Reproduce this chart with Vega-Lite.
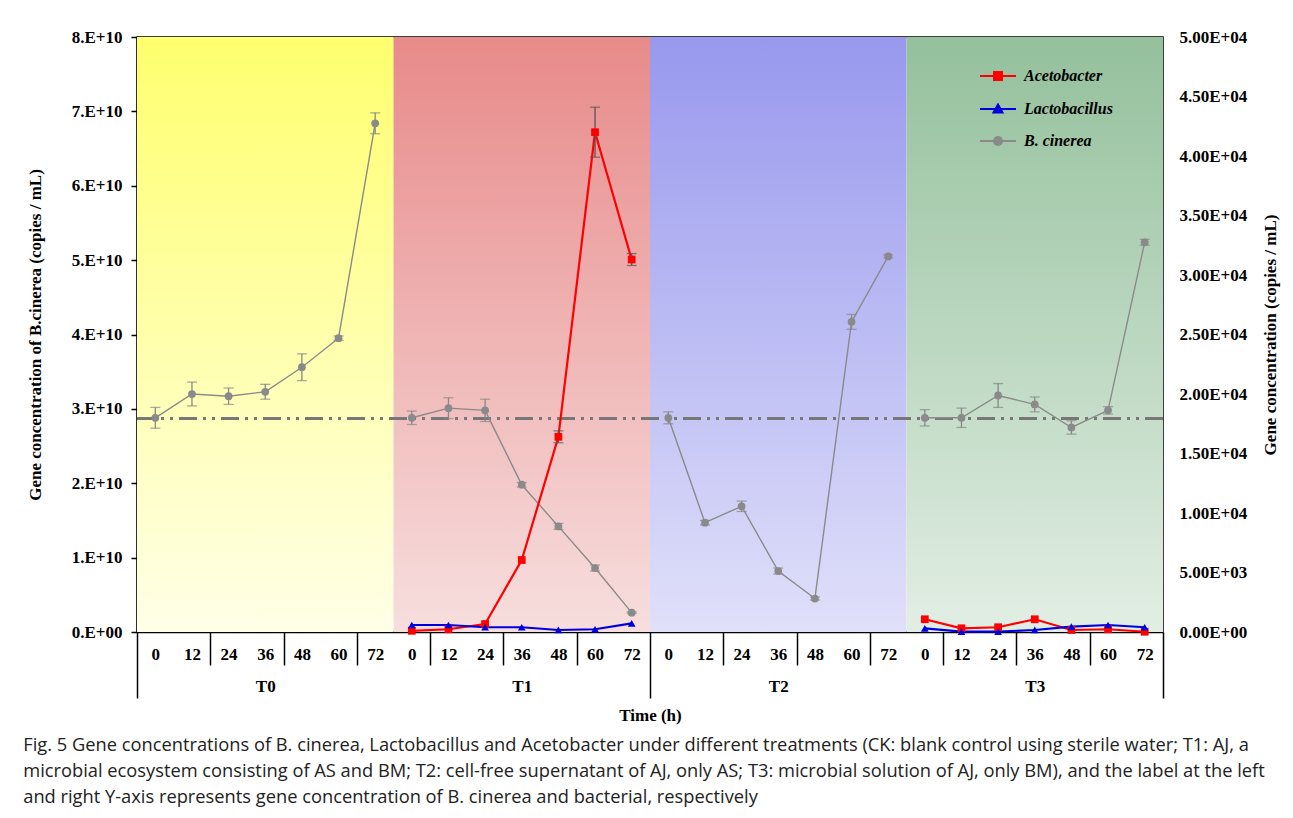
{
  "$schema": "https://vega.github.io/schema/vega-lite/v6.json",
  "width": 1026,
  "height": 595,
  "autosize": {"type": "none"},
  "padding": {"left": 137, "top": 37, "right": 130, "bottom": 186},
  "background": "white",
  "config": {
    "view": {"stroke": "black", "strokeWidth": 1.5},
    "axis": {"labelFont": "Liberation Serif", "titleFont": "Liberation Serif", "labelFontWeight": "bold", "titleFontWeight": "bold", "labelColor": "black", "titleColor": "black", "labelFontSize": 17, "titleFontSize": 17, "grid": false}
  },
  "title": {
    "text": [
      "Fig. 5  Gene concentrations of B. cinerea, Lactobacillus and Acetobacter under different treatments (CK: blank control using sterile water; T1: AJ, a",
      "microbial ecosystem consisting of AS and BM; T2: cell-free supernatant of AJ, only AS; T3: microbial solution of AJ, only BM), and the label at the left",
      "and right Y-axis represents gene concentration of B. cinerea and bacterial, respectively"
    ],
    "orient": "bottom", "anchor": "start", "frame": "bounds", "font": "Open Sans", "fontSize": 18.3, "fontWeight": "normal", "color": "#222222", "lineHeight": 26, "offset": 14, "dx": -3
  },
  "datasets": {
    "main": [
      {"s": "B. cinerea", "t": "T0", "h": 0, "i": 0, "v": 2.88e10, "e": 1.4e9},
      {"s": "B. cinerea", "t": "T0", "h": 12, "i": 1, "v": 3.20e10, "e": 1.6e9},
      {"s": "B. cinerea", "t": "T0", "h": 24, "i": 2, "v": 3.17e10, "e": 1.1e9},
      {"s": "B. cinerea", "t": "T0", "h": 36, "i": 3, "v": 3.23e10, "e": 1.0e9},
      {"s": "B. cinerea", "t": "T0", "h": 48, "i": 4, "v": 3.56e10, "e": 1.8e9},
      {"s": "B. cinerea", "t": "T0", "h": 60, "i": 5, "v": 3.95e10, "e": 0.3e9},
      {"s": "B. cinerea", "t": "T0", "h": 72, "i": 6, "v": 6.84e10, "e": 1.4e9},
      {"s": "B. cinerea", "t": "T1", "h": 0, "i": 7, "v": 2.88e10, "e": 0.9e9},
      {"s": "B. cinerea", "t": "T1", "h": 12, "i": 8, "v": 3.01e10, "e": 1.4e9},
      {"s": "B. cinerea", "t": "T1", "h": 24, "i": 9, "v": 2.98e10, "e": 1.5e9},
      {"s": "B. cinerea", "t": "T1", "h": 36, "i": 10, "v": 1.98e10, "e": 0.3e9},
      {"s": "B. cinerea", "t": "T1", "h": 48, "i": 11, "v": 1.42e10, "e": 0.4e9},
      {"s": "B. cinerea", "t": "T1", "h": 60, "i": 12, "v": 0.86e10, "e": 0.4e9},
      {"s": "B. cinerea", "t": "T1", "h": 72, "i": 13, "v": 0.26e10, "e": 0.1e9},
      {"s": "B. cinerea", "t": "T2", "h": 0, "i": 14, "v": 2.88e10, "e": 0.8e9},
      {"s": "B. cinerea", "t": "T2", "h": 12, "i": 15, "v": 1.47e10, "e": 0.3e9},
      {"s": "B. cinerea", "t": "T2", "h": 24, "i": 16, "v": 1.69e10, "e": 0.7e9},
      {"s": "B. cinerea", "t": "T2", "h": 36, "i": 17, "v": 0.82e10, "e": 0.4e9},
      {"s": "B. cinerea", "t": "T2", "h": 48, "i": 18, "v": 0.45e10, "e": 0.2e9},
      {"s": "B. cinerea", "t": "T2", "h": 60, "i": 19, "v": 4.17e10, "e": 1.0e9},
      {"s": "B. cinerea", "t": "T2", "h": 72, "i": 20, "v": 5.05e10, "e": 0.2e9},
      {"s": "B. cinerea", "t": "T3", "h": 0, "i": 21, "v": 2.88e10, "e": 1.1e9},
      {"s": "B. cinerea", "t": "T3", "h": 12, "i": 22, "v": 2.88e10, "e": 1.3e9},
      {"s": "B. cinerea", "t": "T3", "h": 24, "i": 23, "v": 3.18e10, "e": 1.6e9},
      {"s": "B. cinerea", "t": "T3", "h": 36, "i": 24, "v": 3.06e10, "e": 1.0e9},
      {"s": "B. cinerea", "t": "T3", "h": 48, "i": 25, "v": 2.75e10, "e": 0.9e9},
      {"s": "B. cinerea", "t": "T3", "h": 60, "i": 26, "v": 2.98e10, "e": 0.5e9},
      {"s": "B. cinerea", "t": "T3", "h": 72, "i": 27, "v": 5.24e10, "e": 0.4e9},
      {"s": "Acetobacter", "t": "T1", "h": 0, "i": 7, "v": 100, "e": 0},
      {"s": "Acetobacter", "t": "T1", "h": 12, "i": 8, "v": 230, "e": 0},
      {"s": "Acetobacter", "t": "T1", "h": 24, "i": 9, "v": 670, "e": 0},
      {"s": "Acetobacter", "t": "T1", "h": 36, "i": 10, "v": 6050, "e": 0},
      {"s": "Acetobacter", "t": "T1", "h": 48, "i": 11, "v": 16400, "e": 500},
      {"s": "Acetobacter", "t": "T1", "h": 60, "i": 12, "v": 42000, "e": 2100},
      {"s": "Acetobacter", "t": "T1", "h": 72, "i": 13, "v": 31300, "e": 500},
      {"s": "Acetobacter", "t": "T3", "h": 0, "i": 21, "v": 1070, "e": 0},
      {"s": "Acetobacter", "t": "T3", "h": 12, "i": 22, "v": 310, "e": 0},
      {"s": "Acetobacter", "t": "T3", "h": 24, "i": 23, "v": 400, "e": 0},
      {"s": "Acetobacter", "t": "T3", "h": 36, "i": 24, "v": 1070, "e": 0},
      {"s": "Acetobacter", "t": "T3", "h": 48, "i": 25, "v": 170, "e": 0},
      {"s": "Acetobacter", "t": "T3", "h": 60, "i": 26, "v": 230, "e": 0},
      {"s": "Acetobacter", "t": "T3", "h": 72, "i": 27, "v": 20, "e": 0},
      {"s": "Lactobacillus", "t": "T1", "h": 0, "i": 7, "v": 590, "e": 0},
      {"s": "Lactobacillus", "t": "T1", "h": 12, "i": 8, "v": 590, "e": 0},
      {"s": "Lactobacillus", "t": "T1", "h": 24, "i": 9, "v": 400, "e": 0},
      {"s": "Lactobacillus", "t": "T1", "h": 36, "i": 10, "v": 400, "e": 0},
      {"s": "Lactobacillus", "t": "T1", "h": 48, "i": 11, "v": 170, "e": 0},
      {"s": "Lactobacillus", "t": "T1", "h": 60, "i": 12, "v": 230, "e": 0},
      {"s": "Lactobacillus", "t": "T1", "h": 72, "i": 13, "v": 730, "e": 0},
      {"s": "Lactobacillus", "t": "T3", "h": 0, "i": 21, "v": 310, "e": 0},
      {"s": "Lactobacillus", "t": "T3", "h": 12, "i": 22, "v": 30, "e": 0},
      {"s": "Lactobacillus", "t": "T3", "h": 24, "i": 23, "v": 30, "e": 0},
      {"s": "Lactobacillus", "t": "T3", "h": 36, "i": 24, "v": 170, "e": 0},
      {"s": "Lactobacillus", "t": "T3", "h": 48, "i": 25, "v": 450, "e": 0},
      {"s": "Lactobacillus", "t": "T3", "h": 60, "i": 26, "v": 590, "e": 0},
      {"s": "Lactobacillus", "t": "T3", "h": 72, "i": 27, "v": 400, "e": 0}
    ]
  },
  "data": {"name": "main"},
  "resolve": {"scale": {"y": "independent"}, "axis": {"x": "independent"}},
  "layer": [
    {
      "layer": [
        {
          "data": {"values": [{"x0": -0.5, "x1": 6.5}]},
          "mark": {"type": "rect", "fill": {"gradient": "linear", "x1": 0, "y1": 0, "x2": 0, "y2": 1, "stops": [{"offset": 0, "color": "#FFFF6E"}, {"offset": 1, "color": "#FFFFE8"}]}},
          "encoding": {
            "x": {
              "field": "x0", "type": "quantitative", "title": null,
              "scale": {"domain": [-0.5, 27.5], "nice": false, "zero": false},
              "axis": {
                "orient": "bottom",
                "values": [-0.5, 0.5, 1.5, 2.5, 3.5, 4.5, 5.5, 6.5, 7.5, 8.5, 9.5, 10.5, 11.5, 12.5, 13.5, 14.5, 15.5, 16.5, 17.5, 18.5, 19.5, 20.5, 21.5, 22.5, 23.5, 24.5, 25.5, 26.5, 27.5],
                "title": null,
                "labels": false,
                "tickColor": "black",
                "tickWidth": 1.5,
                "tickSize": {"condition": {"test": "(datum.value + 0.5) % 7 === 0", "value": 66}, "value": 33},
                "domainColor": "black",
                "domainWidth": 1.5
              }
            },
            "x2": {"field": "x1"},
            "y": {
              "datum": 8e10, "type": "quantitative",
              "title": "Gene concentration of  B.cinerea (copies / mL)",
              "scale": {"domain": [0, 8e10], "nice": false, "zero": true},
              "axis": {
                "values": [0, 1e10, 2e10, 3e10, 4e10, 5e10, 6e10, 7e10, 8e10],
                "labelExpr": "datum.value === 0 ? '0.E+00' : round(datum.value / 1e10) + '.E+10'",
                "tickSize": 6, "tickColor": "black", "tickWidth": 1.5,
                "domainColor": "black", "domainWidth": 1.5,
                "labelPadding": 9, "titlePadding": 27
              }
            },
            "y2": {"datum": 0}
          }
        },
        {
          "data": {"values": [{"x0": 6.5, "x1": 13.5}]},
          "mark": {"type": "rect", "fill": {"gradient": "linear", "x1": 0, "y1": 0, "x2": 0, "y2": 1, "stops": [{"offset": 0, "color": "#E88A8A"}, {"offset": 1, "color": "#F7DEDE"}]}},
          "encoding": {"x": {"field": "x0", "type": "quantitative", "title": null}, "x2": {"field": "x1"}, "y": {"datum": 8e10, "type": "quantitative", "title": "Gene concentration of  B.cinerea (copies / mL)"}, "y2": {"datum": 0}}
        },
        {
          "data": {"values": [{"x0": 13.5, "x1": 20.5}]},
          "mark": {"type": "rect", "fill": {"gradient": "linear", "x1": 0, "y1": 0, "x2": 0, "y2": 1, "stops": [{"offset": 0, "color": "#9898EE"}, {"offset": 1, "color": "#E0E0FA"}]}},
          "encoding": {"x": {"field": "x0", "type": "quantitative", "title": null}, "x2": {"field": "x1"}, "y": {"datum": 8e10, "type": "quantitative", "title": "Gene concentration of  B.cinerea (copies / mL)"}, "y2": {"datum": 0}}
        },
        {
          "data": {"values": [{"x0": 20.5, "x1": 27.5}]},
          "mark": {"type": "rect", "fill": {"gradient": "linear", "x1": 0, "y1": 0, "x2": 0, "y2": 1, "stops": [{"offset": 0, "color": "#94C09C"}, {"offset": 1, "color": "#E2EEE4"}]}},
          "encoding": {"x": {"field": "x0", "type": "quantitative", "title": null}, "x2": {"field": "x1"}, "y": {"datum": 8e10, "type": "quantitative", "title": "Gene concentration of  B.cinerea (copies / mL)"}, "y2": {"datum": 0}}
        },
        {
          "mark": {"type": "rule", "color": "#777777", "strokeWidth": 1.8, "strokeDash": [18, 6, 3, 6, 3, 6]},
          "encoding": {"y": {"datum": 2.87e10, "type": "quantitative", "title": "Gene concentration of  B.cinerea (copies / mL)"}}
        },
        {
          "transform": [{"filter": "datum.s === 'B. cinerea'"}],
          "mark": {"type": "line", "strokeWidth": 1.4},
          "encoding": {
            "x": {"field": "i", "type": "quantitative", "title": null},
            "y": {"field": "v", "type": "quantitative", "title": "Gene concentration of  B.cinerea (copies / mL)"},
            "detail": {"field": "t"},
            "color": {
              "field": "s", "type": "nominal",
              "scale": {"domain": ["Acetobacter", "Lactobacillus", "B. cinerea"], "range": ["#FF0000", "#0000DD", "#8A8A8A"]},
              "legend": {
                "title": null, "orient": "none", "legendX": 853, "legendY": 31, "padding": 0,
                "symbolSize": 100, "symbolStrokeWidth": 2, "symbolOpacity": 1,
                "labelFont": "Liberation Serif", "labelFontStyle": "italic", "labelFontWeight": "bold", "labelFontSize": 16, "labelColor": "black",
                "labelOffset": 18, "rowPadding": 16,
                "encode": {"symbols": {"update": {
                  "shape": {"signal": "datum.value === 'Acetobacter' ? 'M-3.6,0H3.6M-0.8,-0.8H0.8V0.8H-0.8Z' : (datum.value === 'Lactobacillus' ? 'M-3.6,0H3.6M0,-0.9L0.9,0.7H-0.9Z' : 'M-3.6,0H3.6M-0.8,0A0.8,0.8,0,1,0,0.8,0A0.8,0.8,0,1,0,-0.8,0Z')"},
                  "fill": {"scale": "color", "field": "value"},
                  "stroke": {"scale": "color", "field": "value"},
                  "opacity": {"value": 1}
                }}}
              }
            }
          }
        },
        {
          "transform": [{"filter": "datum.s === 'B. cinerea'"}],
          "mark": {"type": "errorbar", "ticks": {"size": 10, "thickness": 1.3}, "color": "#888888", "thickness": 1.3},
          "encoding": {
            "x": {"field": "i", "type": "quantitative", "title": null},
            "y": {"field": "v", "type": "quantitative", "title": "Gene concentration of  B.cinerea (copies / mL)"},
            "yError": {"field": "e"}
          }
        },
        {
          "transform": [{"filter": "datum.s === 'B. cinerea'"}],
          "mark": {"type": "point", "filled": true, "shape": "circle", "size": 60, "opacity": 1},
          "encoding": {
            "x": {"field": "i", "type": "quantitative", "title": null},
            "y": {"field": "v", "type": "quantitative", "title": "Gene concentration of  B.cinerea (copies / mL)"},
            "color": {"field": "s", "type": "nominal"}
          }
        }
      ]
    },
    {
      "transform": [{"filter": "datum.s !== 'B. cinerea'"}],
      "resolve": {"axis": {"x": "independent"}},
      "layer": [
        {
          "mark": {"type": "line", "strokeWidth": 2.2},
          "encoding": {
            "x": {
              "field": "i", "type": "quantitative", "title": "Time (h)",
              "axis": {
                "orient": "bottom",
                "values": [0, 2, 4, 6, 8, 10, 12, 14, 16, 18, 20, 22, 24, 26],
                "labelExpr": "datum.value % 7 === 3 ? ['' + ((datum.value % 7) * 12), 'T' + floor(datum.value / 7)] : '' + ((datum.value % 7) * 12)",
                "labelLineHeight": 32,
                "labelPadding": 14,
                "labelOverlap": false,
                "labelFlush": false,
                "labelBound": false,
                "ticks": false,
                "domain": false,
                "titlePadding": 13
              }
            },
            "y": {
              "field": "v", "type": "quantitative", "title": "Gene concentration (copies / mL)",
              "scale": {"domain": [0, 50000], "nice": false},
              "axis": {
                "orient": "right",
                "values": [0, 5000, 10000, 15000, 20000, 25000, 30000, 35000, 40000, 45000, 50000],
                "labelExpr": "datum.value === 0 ? '0.00E+00' : (datum.value < 10000 ? format(datum.value / 1000, '.2f') + 'E+03' : format(datum.value / 10000, '.2f') + 'E+04')",
                "titleAngle": 270,
                "titleBaseline": "top",
                "ticks": false, "domain": false,
                "labelPadding": 16, "titlePadding": 16
              }
            },
            "detail": {"field": "t"},
            "color": {"field": "s", "type": "nominal"}
          }
        },
        {
          "transform": [{"filter": "datum.e > 0"}],
          "mark": {"type": "errorbar", "ticks": {"size": 10, "thickness": 1.3}, "color": "#555555", "thickness": 1.3},
          "encoding": {
            "x": {"field": "i", "type": "quantitative", "axis": null},
            "y": {"field": "v", "type": "quantitative", "title": "Gene concentration (copies / mL)"},
            "yError": {"field": "e"}
          }
        },
        {
          "mark": {"type": "point", "filled": true, "size": 60, "opacity": 1},
          "encoding": {
            "x": {
              "field": "i", "type": "quantitative",
              "axis": {
                "orient": "bottom",
                "title": null,
                "values": [1, 3, 5, 7, 9, 11, 13, 15, 17, 19, 21, 23, 25, 27],
                "labelExpr": "datum.value % 7 === 3 ? ['' + ((datum.value % 7) * 12), 'T' + floor(datum.value / 7)] : '' + ((datum.value % 7) * 12)",
                "labelLineHeight": 32,
                "labelPadding": 14,
                "labelOverlap": false,
                "labelFlush": false,
                "labelBound": false,
                "ticks": false,
                "domain": false
              }
            },
            "y": {"field": "v", "type": "quantitative", "title": "Gene concentration (copies / mL)"},
            "color": {"field": "s", "type": "nominal"},
            "shape": {"field": "s", "type": "nominal", "scale": {"domain": ["Acetobacter", "Lactobacillus"], "range": ["square", "triangle-up"]}, "legend": null}
          }
        }
      ]
    }
  ]
}
